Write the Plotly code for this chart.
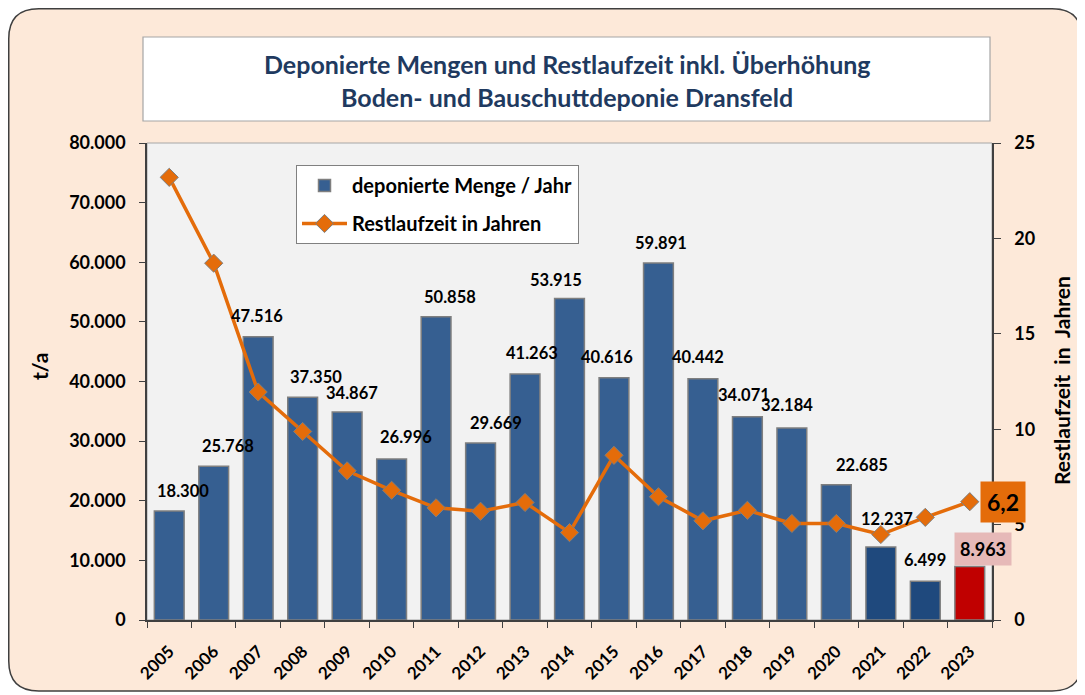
import plotly.graph_objects as go

# ---------------- data ----------------
years = ["2005", "2006", "2007", "2008", "2009", "2010", "2011", "2012", "2013", "2014",
         "2015", "2016", "2017", "2018", "2019", "2020", "2021", "2022", "2023"]
deponiert = [18300, 25768, 47516, 37350, 34867, 26996, 50858, 29669, 41263, 53915,
             40616, 59891, 40442, 34071, 32184, 22685, 12237, 6499, 8963]
restlaufzeit = [23.2, 18.7, 11.95, 9.88, 7.82, 6.8, 5.88, 5.7, 6.16, 4.58,
                8.63, 6.46, 5.2, 5.75, 5.06, 5.06, 4.48, 5.38, 6.2]
left_ticks = [0, 10000, 20000, 30000, 40000, 50000, 60000, 70000, 80000]
right_ticks = [0, 5, 10, 15, 20, 25]

title_lines = ["Deponierte Mengen und Restlaufzeit inkl. Überhöhung",
               "Boden- und Bauschuttdeponie Dransfeld"]

# ---------------- styles ----------------
FONT = "Lato"
bar_colors = ["#365F91"] * 16 + ["#1F497D", "#1F497D", "#C00000"]
# label offsets (px) relative to bar top / bar centre
label_dx = [14, 14, -1, 13, 5, 14, 14, 15, 7, -14, -7, 3, -5, -3, -5, 26, 6, 0, 13]
label_dy = [20, 20, 21, 20, 19, 22, 20, 20, 21, 19, 21, 20, 22, 22, 23, 20, 28, 21, 18]

OFF = 8                       # page body margin
W, H = 1085 - OFF, 695 - OFF
L, R, T, B = 139, 93, 135, 75
PW, PH = W - L - R, H - T - B


def px_x(p):                  # screen px -> paper
    return (p - OFF - L) / PW


def px_y(p):
    return (OFF + H - B - p) / PH


def fmt_de(v):
    return f"{v:,}".replace(",", ".")


fig = go.Figure()

fig.add_trace(go.Bar(
    x=years, y=deponiert, name="<b>deponierte Menge / Jahr</b>",
    marker=dict(color=bar_colors, line=dict(color="#7F7F7F", width=1.5)),
    yaxis="y", legendgroup="a",
))
fig.add_trace(go.Scatter(
    x=years, y=restlaufzeit, name="<b>Restlaufzeit in Jahren</b>",
    mode="lines+markers", yaxis="y2", legendgroup="b",
    line=dict(color="#E46C0A", width=3.5),
    marker=dict(symbol="diamond", size=14, color="#E46C0A",
                line=dict(color="#7F7F7F", width=1)),
))

annotations = []
n = len(years)
for i, v in enumerate(deponiert):
    last = i == n - 1
    ann = dict(
        x=i, y=v, xref="x", yref="y", text=f"<b>{fmt_de(v)}</b>",
        showarrow=False, xshift=label_dx[i], yshift=label_dy[i],
        yanchor="middle", xanchor="center",
        font=dict(family=FONT, size=18 if last else 16.5, color="black"),
    )
    if last:
        ann.update(bgcolor="#E6B9B8", borderpad=5)
    annotations.append(ann)

# last value of Restlaufzeit highlighted
annotations.append(dict(
    x=n - 1, y=restlaufzeit[-1], xref="x", yref="y2",
    text="<b>" + f"{restlaufzeit[-1]:.1f}".replace(".", ",") + "</b>",
    showarrow=False, xshift=33, yshift=0, xanchor="center", yanchor="middle",
    font=dict(family=FONT, size=23, color="black"),
    bgcolor="#E46C0A", borderpad=6,
))

# title
for line, yy in zip(title_lines, (64, 97)):
    annotations.append(dict(
        x=px_x(567), y=px_y(yy), xref="paper", yref="paper",
        text=f"<b>{line}</b>", showarrow=False,
        font=dict(family=FONT, size=25, color="#1F3A60"),
        xanchor="center", yanchor="middle",
    ))
# axis titles
annotations.append(dict(
    x=px_x(39), y=px_y(367), xref="paper", yref="paper", text="<b>t/a</b>",
    showarrow=False, textangle=-90, font=dict(family=FONT, size=21, color="black"),
    xanchor="center", yanchor="middle",
))
annotations.append(dict(
    x=px_x(1061), y=px_y(381), xref="paper", yref="paper",
    text="<b>Restlaufzeit  in  Jahren</b>",
    showarrow=False, textangle=-90, font=dict(family=FONT, size=21, color="black"),
    xanchor="center", yanchor="middle",
))

# background shapes
x0, x1 = px_x(8.75), px_x(1082)
yt, yb = px_y(8.75), px_y(691)
rx, ry = 30 / PW, 30 / PH
outer = (f"M {x0+rx},{yt} L {x1-rx},{yt} Q {x1},{yt} {x1},{yt-ry} "
         f"L {x1},{yb+ry} Q {x1},{yb} {x1-rx},{yb} L {x0+rx},{yb} "
         f"Q {x0},{yb} {x0},{yb+ry} L {x0},{yt-ry} Q {x0},{yt} {x0+rx},{yt} Z")
shapes = [
    dict(type="path", path=outer, xref="paper", yref="paper", layer="below",
         fillcolor="#FDE9D9", line=dict(color="#3F3F3F", width=1.5)),
    dict(type="rect", x0=0, x1=1, y0=0, y1=1, xref="paper", yref="paper", layer="below",
         fillcolor="#F2F2F2", line=dict(color="#A6A6A6", width=1)),
    dict(type="rect", x0=px_x(143), x1=px_x(990), y0=px_y(121), y1=px_y(37),
         xref="paper", yref="paper", layer="below",
         fillcolor="white", line=dict(color="#A6A6A6", width=1.2)),
]

tickfont = dict(family=FONT, size=18, color="black", weight="bold")

fig.update_layout(
    width=W, height=H,
    margin=dict(l=L, r=R, t=T, b=B, pad=0, autoexpand=False),
    paper_bgcolor="white", plot_bgcolor="rgba(0,0,0,0)",
    separators=",.",
    bargap=0.33,
    font=dict(family=FONT),
    shapes=shapes, annotations=annotations,
    showlegend=True,
    legend=dict(x=px_x(296), y=px_y(165), xanchor="left", yanchor="top",
                bgcolor="white", bordercolor="#808080", borderwidth=1,
                font=dict(family=FONT, size=20, color="black"),
                traceorder="grouped", tracegroupgap=9, itemwidth=45),
    xaxis=dict(type="category", tickangle=-45, tickfont=dict(tickfont, size=17),
               showline=True, linecolor="#404040", linewidth=1.5,
               ticks="outside", ticklen=6, tickcolor="#404040", tickson="boundaries",
               showgrid=False, zeroline=False, range=[-0.5, n - 0.5],
               ticklabelstandoff=13, automargin=False),
    yaxis=dict(range=[0, 80000], tickvals=left_ticks, tickformat=",d", tickfont=tickfont,
               showline=True, linecolor="#404040", linewidth=1.5,
               ticks="outside", ticklen=6, tickcolor="#404040", automargin=False,
               showgrid=False, zeroline=False, ticklabelstandoff=10),
    yaxis2=dict(range=[0, 25], tickvals=right_ticks, overlaying="y", side="right",
                tickfont=tickfont, showline=True, linecolor="#404040", linewidth=1.5,
                ticks="outside", ticklen=7, tickcolor="#404040", automargin=False,
                showgrid=False, zeroline=False, ticklabelstandoff=10),
)

fig.write_html("out.html")
